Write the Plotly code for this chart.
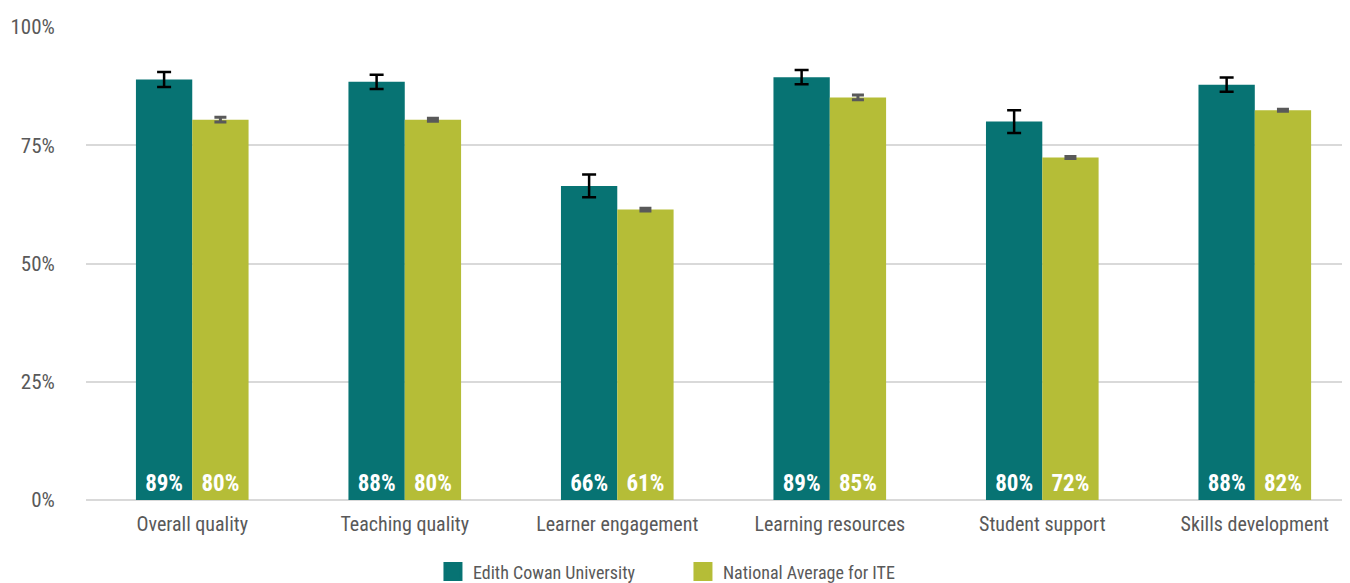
import plotly.graph_objects as go

categories = ["Overall quality", "Teaching quality", "Learner engagement",
              "Learning resources", "Student support", "Skills development"]
ecu_values = [88.9, 88.4, 66.4, 89.4, 80.0, 87.8]
ecu_err = [1.6, 1.5, 2.4, 1.5, 2.4, 1.5]
nat_values = [80.4, 80.4, 61.4, 85.1, 72.4, 82.4]
nat_err = [0.5, 0.3, 0.3, 0.5, 0.2, 0.2]
ytick_vals = [0, 25, 50, 75, 100]
ytick_text = ["0%", "25%", "50%", "75%", "100%"]
series_names = ["Edith Cowan University", "National Average for ITE"]

FONT = "Roboto Condensed, Liberation Sans Narrow, Arial Narrow, Roboto, sans-serif"
TEAL = "#077373"
GREEN = "#b5bd37"
GREY = "#595959"

fig = go.Figure()
fig.add_trace(go.Bar(
    name=series_names[0], x=categories, y=ecu_values, showlegend=False,
    marker=dict(color=TEAL, line=dict(width=0)),
    error_y=dict(type="data", array=ecu_err, color="#000000", thickness=2.5, width=7),
    texttemplate="<b>%{y:.0f}%</b>", textposition="inside", insidetextanchor="start",
    textfont=dict(color="white", size=23, family=FONT), textangle=0,
))
fig.add_trace(go.Bar(
    name=series_names[1], x=categories, y=nat_values, showlegend=False,
    marker=dict(color=GREEN, line=dict(width=0)),
    error_y=dict(type="data", array=nat_err, color=GREY, thickness=3, width=6),
    texttemplate="<b>%{y:.0f}%</b>", textposition="inside", insidetextanchor="start",
    textfont=dict(color="white", size=23, family=FONT), textangle=0,
))
# legend entries with square swatches
for name, col in zip(series_names, [TEAL, GREEN]):
    fig.add_trace(go.Scatter(
        x=[None], y=[None], mode="markers", name=name,
        marker=dict(symbol="square", size=16, color=col, line=dict(width=3, color=col)),
        showlegend=True,
    ))

fig.update_layout(
    width=1342, height=575,
    margin=dict(l=78, r=0, t=19, b=83, autoexpand=False),
    paper_bgcolor="white", plot_bgcolor="white",
    barmode="group", bargap=0.47, bargroupgap=0,
    font=dict(family=FONT, size=20, color=GREY),
    legend=dict(orientation="h", x=0.2745, xanchor="left", y=-0.152, yanchor="middle",
                font=dict(size=18, color=GREY, family=FONT), traceorder="normal",
                itemwidth=30, entrywidth=205, entrywidthmode="pixels"),
    uniformtext=dict(mode="show", minsize=10),
)
fig.update_xaxes(range=[-0.5, 5.448], showgrid=False, showline=False, zeroline=False,
                 tickfont=dict(size=20, color=GREY), ticks="outside", ticklen=6,
                 tickcolor="rgba(0,0,0,0)")
fig.update_yaxes(range=[0, 100], tickvals=ytick_vals, ticktext=ytick_text,
                 showgrid=True, gridcolor="#d9d9d9", gridwidth=2,
                 zeroline=True, zerolinecolor="#d9d9d9", zerolinewidth=2,
                 tickfont=dict(size=21, color=GREY), ticks="outside", ticklen=26,
                 tickcolor="rgba(0,0,0,0)", showline=False)

fig.write_html("out.html")
